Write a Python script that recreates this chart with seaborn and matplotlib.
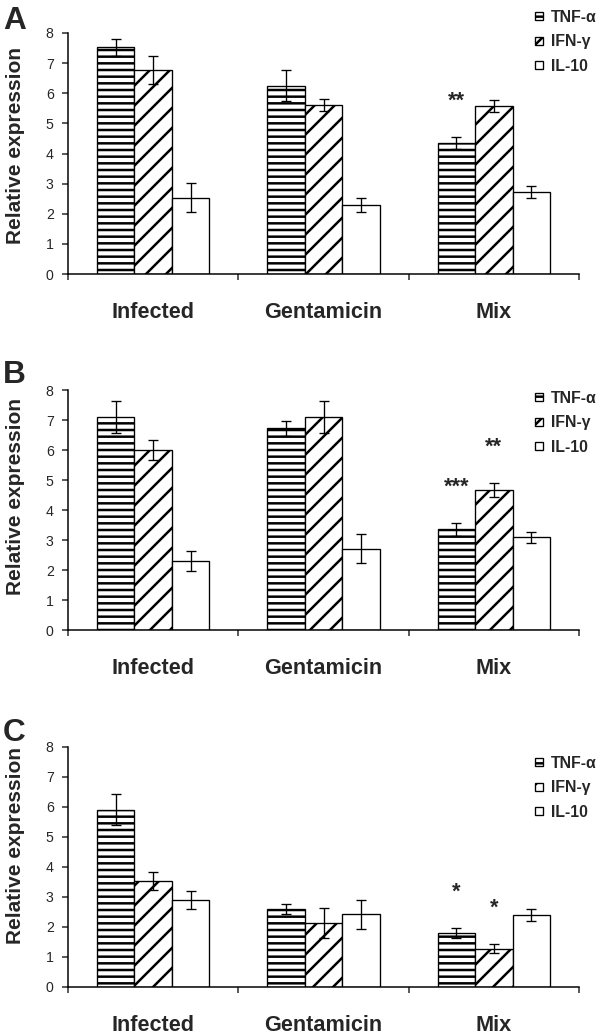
import matplotlib
matplotlib.use("Agg")
import matplotlib.pyplot as plt
import pandas as pd
import seaborn as sns

# groups on x axis and cytokines (hue)
groups = ["Infected", "Gentamicin", "Mix"]
cytokines = ["TNF-α", "IFN-γ", "IL-10"]

# panel A: mean and error, order Infected, Gentamicin, Mix
a_tnf = [7.52, 6.25, 4.34]
a_ifn = [6.77, 5.61, 5.58]
a_il10 = [2.53, 2.29, 2.72]
a_tnf_err = [0.29, 0.52, 0.20]
a_ifn_err = [0.47, 0.20, 0.20]
a_il10_err = [0.48, 0.24, 0.20]

# panel B
b_tnf = [7.09, 6.72, 3.36]
b_ifn = [6.00, 7.10, 4.67]
b_il10 = [2.30, 2.71, 3.09]
b_tnf_err = [0.53, 0.24, 0.21]
b_ifn_err = [0.34, 0.52, 0.24]
b_il10_err = [0.32, 0.49, 0.19]

# panel C
c_tnf = [5.91, 2.60, 1.79]
c_ifn = [3.54, 2.12, 1.28]
c_il10 = [2.90, 2.42, 2.40]
c_tnf_err = [0.51, 0.16, 0.17]
c_ifn_err = [0.30, 0.50, 0.15]
c_il10_err = [0.29, 0.48, 0.19]

# significance marks: (group, cytokine, label)
a_stars = [("Mix", "TNF-α", "**")]
b_stars = [("Mix", "TNF-α", "***"), ("Mix", "IFN-γ", "**")]
c_stars = [("Mix", "TNF-α", "*"), ("Mix", "IFN-γ", "*")]

panels = [
    ("A", [a_tnf, a_ifn, a_il10], [a_tnf_err, a_ifn_err, a_il10_err], a_stars),
    ("B", [b_tnf, b_ifn, b_il10], [b_tnf_err, b_ifn_err, b_il10_err], b_stars),
    ("C", [c_tnf, c_ifn, c_il10], [c_tnf_err, c_ifn_err, c_il10_err], c_stars),
]

sns.set_style("white")
plt.rcParams["font.family"] = ["Liberation Sans", "DejaVu Sans"]
plt.rcParams["hatch.linewidth"] = 1.5
plt.rcParams["hatch.color"] = "black"

hatches = ["---", "//", ""]

W, H = 600, 1036
fig = plt.figure(figsize=(5, 1036 / 120), dpi=120)

# layout in pixels: axes (top of 8, bottom at 0), panel letter, legend top
ax_px = [(33, 274), (390, 630), (747, 987)]
letter_tops = [6, 360, 718]
legend_tops = [2, 383, 748]
ylabel_y = [0.535, 0.555, 0.59]

for (letter, vals, errs, stars), (top, bot), let_top, leg_top, yl in zip(
        panels, ax_px, letter_tops, legend_tops, ylabel_y):
    ax = fig.add_axes([68 / W, 1 - bot / H, 511 / W, (bot - top) / H])
    rows = []
    for cyt, v in zip(cytokines, vals):
        for g, val in zip(groups, v):
            rows.append({"group": g, "cytokine": cyt, "value": val})
    df = pd.DataFrame(rows)
    sns.barplot(data=df, x="group", y="value", hue="cytokine",
                order=groups, hue_order=cytokines,
                palette=["white"] * 3, edgecolor="black", linewidth=0.8,
                width=0.66, errorbar=None, legend=False, ax=ax)
    for cont, hatch, err in zip(ax.containers, hatches, errs):
        xs = []
        for bar in cont:
            bar.set_hatch(hatch)
            bar.set_edgecolor("black")
            xs.append(bar.get_x() + bar.get_width() / 2)
        ax.errorbar(xs, cont.datavalues, yerr=err, fmt="none",
                    ecolor="black", elinewidth=0.8, capsize=3,
                    capthick=0.8, zorder=5)
    # stars above the error bars
    for g, cyt, lab in stars:
        ci = cytokines.index(cyt)
        gi = groups.index(g)
        bar = ax.containers[ci][gi]
        y = vals[ci][gi] + errs[ci][gi] + 1.0
        ax.text(bar.get_x() + bar.get_width() / 2, y, lab, ha="center",
                va="baseline", fontsize=13, fontweight="bold")

    ax.set_ylim(0, 8)
    ax.set_xlim(-0.5, 2.5)
    ax.set_yticks(range(0, 9))
    ax.set_xticks([-0.5, 0.5, 1.5, 2.5], minor=True)
    ax.tick_params(axis="x", which="major", length=0, pad=17)
    ax.tick_params(axis="x", which="minor", length=3.5, width=0.9,
                   direction="out", bottom=True)
    ax.tick_params(axis="y", length=3.6, width=0.9, direction="out",
                   left=True, pad=5, labelsize=8.5)
    for lbl in ax.get_xticklabels():
        lbl.set_fontweight("bold")
        lbl.set_fontsize(13)
    ax.set_xlabel("")
    ax.set_ylabel("Relative expression", fontsize=12.5, fontweight="bold")
    ax.yaxis.set_label_coords(-0.085, yl)
    sns.despine(ax=ax)
    for s in ["left", "bottom"]:
        ax.spines[s].set_linewidth(0.9)
        ax.spines[s].set_color("black")

    ax.legend(handles=list(ax.containers), labels=cytokines,
              loc="upper left", bbox_to_anchor=(527 / W, 1 - leg_top / H),
              bbox_transform=fig.transFigure, frameon=False,
              borderpad=0, handlelength=0.5, handleheight=0.4,
              handletextpad=0.5, labelspacing=0.6,
              prop={"weight": "bold", "size": 9.5})

    fig.text(3 / W, 1 - let_top / H, letter, fontsize=19, fontweight="bold",
             va="top", ha="left")

fig.savefig("out.png", dpi=120)
